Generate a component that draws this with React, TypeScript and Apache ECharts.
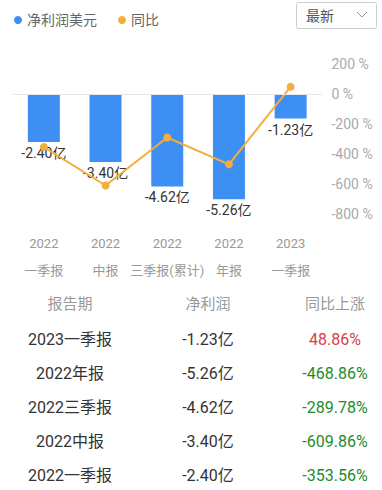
import React, { useEffect, useRef } from "react";
import * as echarts from "echarts";

const categories = ["2022\n一季报", "2022\n中报", "2022\n三季报(累计)", "2022\n年报", "2023\n一季报"];
const netProfit = [-2.4, -3.4, -4.62, -5.26, -1.23];
const yoy = [-353.56, -609.86, -289.78, -468.86, 48.86];

const tableHeaders = ["报告期", "净利润", "同比上涨"];
const tablePeriods = ["2023一季报", "2022年报", "2022三季报", "2022中报", "2022一季报"];
const tableProfits = ["-1.23亿", "-5.26亿", "-4.62亿", "-3.40亿", "-2.40亿"];
const tableYoy = [48.86, -468.86, -289.78, -609.86, -353.56];

const FONT = 'Roboto, "Noto Sans CJK SC", sans-serif';

export default function App() {
  const ref = useRef<HTMLDivElement>(null);
  useEffect(() => {
    document.body.style.margin = "0";
    const chart = echarts.init(ref.current!, null, { renderer: "svg" });
    const colX = [70, 208, 335];
    const graphics: any[] = [
      {
        type: "rect",
        shape: { x: 296.5, y: 2.5, width: 80, height: 26, r: 2 },
        style: { fill: "#fff", stroke: "#cccccc", lineWidth: 1 },
      },
      {
        type: "text",
        x: 306,
        y: 15.5,
        style: { text: "最新", fill: "#555", font: `14px ${FONT}`, verticalAlign: "middle" },
      },
      {
        type: "polyline",
        shape: { points: [[357, 12], [362, 17], [367, 12]] },
        style: { stroke: "#999", lineWidth: 1, fill: null },
      },
    ];
    tableHeaders.forEach((h, i) => {
      graphics.push({
        type: "text",
        x: colX[i],
        y: 304,
        style: { text: h, fill: "#999", font: `15px ${FONT}`, align: "center", verticalAlign: "middle" },
      });
    });
    tablePeriods.forEach((p, r) => {
      const y = 339 + r * 34;
      const v = tableYoy[r];
      graphics.push(
        {
          type: "text",
          x: colX[0],
          y,
          style: { text: p, fill: "#333", font: `16px ${FONT}`, align: "center", verticalAlign: "middle" },
        },
        {
          type: "text",
          x: colX[1],
          y,
          style: { text: tableProfits[r], fill: "#333", font: `16px ${FONT}`, align: "center", verticalAlign: "middle" },
        },
        {
          type: "text",
          x: colX[2],
          y,
          style: {
            text: v.toFixed(2) + "%",
            fill: v >= 0 ? "#d8404a" : "#1c8c2a",
            font: `16px ${FONT}`,
            align: "center",
            verticalAlign: "middle",
          },
        }
      );
    });

    chart.setOption({
      animation: false,
      textStyle: { fontFamily: FONT },
      legend: {
        left: 9,
        top: 8,
        icon: "circle",
        itemWidth: 8,
        itemHeight: 8,
        itemGap: 21,
        textStyle: { color: "#666", fontSize: 14, fontFamily: FONT },
        data: ["净利润美元", "同比"],
      },
      grid: { left: 13, right: 60.5, top: 64, bottom: 276, containLabel: false },
      xAxis: {
        type: "category",
        data: categories,
        axisLine: { show: false, onZero: false },
        axisTick: { show: false },
        axisLabel: { color: "#999", fontSize: 13, lineHeight: 27, margin: 16, interval: 0, fontFamily: FONT },
      },
      yAxis: [
        { type: "value", min: -6, max: 1.5, interval: 1.5, show: false, splitLine: { show: false } },
        {
          type: "value",
          position: "right",
          min: -800,
          max: 200,
          interval: 200,
          axisLine: { show: false },
          axisTick: { show: false },
          splitLine: { show: false },
          axisLabel: { color: "#aaa", fontSize: 14, margin: 10, formatter: "{value} %", fontFamily: FONT },
        },
      ],
      series: [
        {
          name: "净利润美元",
          type: "bar",
          data: netProfit,
          barWidth: 32,
          itemStyle: { color: "#3d8ff3" },
          label: {
            show: true,
            position: "bottom",
            distance: 4,
            color: "#333",
            fontSize: 14,
            fontFamily: FONT,
            formatter: (p: any) => p.value.toFixed(2) + "亿",
          },
          markLine: {
            silent: true,
            symbol: "none",
            label: { show: false },
            lineStyle: { color: "#e6e6e6", width: 1, type: "solid" },
            data: [{ yAxis: 0 }],
          },
        },
        {
          name: "同比",
          type: "line",
          yAxisIndex: 1,
          data: yoy,
          symbol: "circle",
          symbolSize: 8,
          itemStyle: { color: "#f5ad3c" },
          lineStyle: { color: "#f5ad3c", width: 2 },
        },
      ],
      graphic: graphics,
    });
    return () => chart.dispose();
  }, []);
  return <div ref={ref} style={{ position: "absolute", left: 0, top: 0, width: 382, height: 490 }} />;
}
